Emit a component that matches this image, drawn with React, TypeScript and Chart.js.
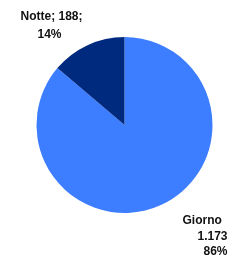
import React, { useEffect, useRef } from "react";
import { Chart, registerables } from "chart.js";

Chart.register(...registerables);

const categories = ["Giorno", "Notte"];
const values = [1173, 188];
const valueLabels = ["1.173", "188"];
const percentLabels = ["86%", "14%"];
const colors = ["#3d7dff", "#002a7d"];

const labelPlugin = {
  id: "sliceLabels",
  afterDatasetsDraw(chart: any) {
    const meta = chart.getDatasetMeta(0);
    const arc = meta.data[0];
    if (!arc) return;
    const cx = arc.x;
    const cy = arc.y;
    const ctx = chart.ctx;
    ctx.save();
    ctx.font = "bold 12px 'Liberation Sans', Arial, sans-serif";
    ctx.fillStyle = "#111";
    ctx.textBaseline = "alphabetic";
    // Notte label (top-left)
    ctx.textAlign = "center";
    ctx.fillText(`${categories[1]}; ${valueLabels[1]};`, cx - 73, cy - 105.5);
    ctx.fillText(percentLabels[1], cx - 75, cy - 87.5);
    // Giorno label (bottom-right)
    ctx.textAlign = "left";
    ctx.fillText(categories[0], cx + 58, cy + 98.5);
    ctx.textAlign = "right";
    ctx.fillText(valueLabels[0], cx + 103, cy + 114.5);
    ctx.fillText(percentLabels[0], cx + 103, cy + 130);
    ctx.restore();
  },
};

export default function App() {
  const ref = useRef<HTMLCanvasElement>(null);
  useEffect(() => {
    document.body.style.margin = "0";
    const chart = new Chart(ref.current!, {
      type: "pie",
      data: {
        labels: categories,
        datasets: [
          {
            data: values,
            backgroundColor: colors,
            borderWidth: 0,
          },
        ],
      },
      options: {
        responsive: false,
        animation: false,
        layout: { padding: { left: 36, right: 29, top: 37, bottom: 47 } },
        plugins: {
          legend: { display: false },
          tooltip: { enabled: false },
        },
      },
      plugins: [labelPlugin],
    });
    return () => chart.destroy();
  }, []);
  return (
    <div style={{ position: "fixed", left: 0, top: 0, width: 242, height: 260, background: "#fff" }}>
      <canvas ref={ref} width={242} height={260} />
    </div>
  );
}
